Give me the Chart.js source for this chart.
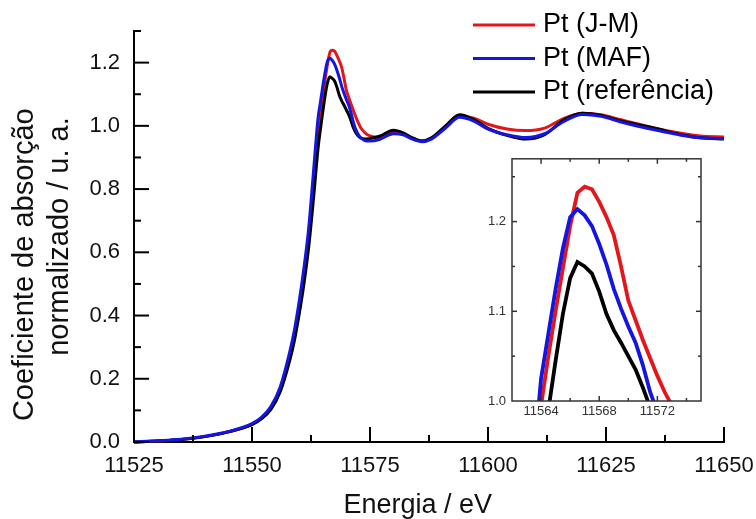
<!DOCTYPE html>
<html>
<head>
<meta charset="utf-8">
<script src="https://cdn.jsdelivr.net/npm/chart.js@4.4.0/dist/chart.umd.min.js"></script>
<style>
  body { margin: 0; background: #fff; }
  #wrap { position: relative; width: 756px; height: 519px; }
  #inset-chart { position: absolute; left: 460px; top: 145px; }
</style>
</head>
<body>
<div id="wrap">
  <canvas id="main-chart" width="756" height="519"></canvas>
  <canvas id="inset-chart" width="260" height="290"></canvas>
</div>
<script>
// energies (eV)
const energy = [
  11525, 11530, 11535, 11540, 11545, 11550, 11552, 11554, 11556, 11558,
  11559, 11560, 11561, 11562, 11563, 11564, 11564.5, 11565, 11565.5, 11566,
  11566.5, 11567, 11567.5, 11568, 11568.5, 11569, 11569.5, 11570, 11570.5, 11571,
  11571.5, 11572, 11572.5, 11573, 11574, 11575, 11577, 11580, 11582, 11584,
  11586, 11588, 11591, 11594, 11597, 11600, 11604, 11608, 11612, 11616,
  11620, 11624, 11628, 11632, 11636, 11640, 11645, 11650,
];

// Pt (J-M)
const jmValues = [
  0.0, 0.003, 0.008, 0.017, 0.032, 0.056, 0.076, 0.108, 0.168, 0.272,
  0.34, 0.43, 0.535, 0.655, 0.815, 0.995, 1.05, 1.1, 1.148, 1.195,
  1.232, 1.239, 1.236, 1.222, 1.205, 1.185, 1.15, 1.112, 1.09, 1.068,
  1.048, 1.028, 1.01, 0.995, 0.977, 0.968, 0.962, 0.978, 0.975, 0.961,
  0.952, 0.96, 0.995, 1.03, 1.024, 1.005, 0.99, 0.985, 0.993, 1.023,
  1.04, 1.035, 1.02, 1.005, 0.991, 0.979, 0.968, 0.965,
];

// Pt (MAF)
const mafValues = [
  0.0, 0.004, 0.009, 0.018, 0.033, 0.058, 0.078, 0.112, 0.175, 0.285,
  0.355, 0.445, 0.55, 0.675, 0.85, 1.025, 1.075, 1.125, 1.17, 1.205,
  1.214, 1.207, 1.195, 1.175, 1.152, 1.125, 1.103, 1.083, 1.065, 1.04,
  1.01, 0.988, 0.973, 0.963, 0.953, 0.952, 0.957, 0.975, 0.972, 0.958,
  0.95, 0.958, 0.993, 1.027, 1.015, 0.99, 0.972, 0.963, 0.975, 1.013,
  1.036, 1.03, 1.013, 0.998, 0.985, 0.973, 0.962, 0.96,
];

// Pt (referência)
const refValues = [
  0.0, 0.003, 0.008, 0.017, 0.032, 0.055, 0.073, 0.103, 0.16, 0.258,
  0.322, 0.405, 0.5, 0.615, 0.765, 0.93, 0.99, 1.045, 1.097, 1.137,
  1.155, 1.15, 1.142, 1.122, 1.097, 1.079, 1.065, 1.05, 1.035, 1.015,
  0.993, 0.978, 0.968, 0.962, 0.958, 0.96, 0.967, 0.986, 0.978, 0.962,
  0.952, 0.962, 1.0, 1.035, 1.02, 0.992, 0.97, 0.958, 0.972, 1.018,
  1.04, 1.033, 1.016, 1.003, 0.99, 0.975, 0.962, 0.958,
];

const seriesLabels = ["Pt (J-M)", "Pt (MAF)", "Pt (referência)"];
const seriesColors = ["#e3171b", "#1515e0", "#000000"];
const seriesValues = [jmValues, mafValues, refValues];
const drawOrder = [2, 0, 1];

const FONT = "'Liberation Sans', Arial, sans-serif";

function buildDatasets(width, smooth) {
  return seriesValues.map((vals, i) => ({
    label: seriesLabels[i],
    data: energy.map((e, j) => ({ x: e, y: vals[j] })),
    borderColor: seriesColors[i],
    borderWidth: width,
    pointRadius: 0,
    fill: false,
    order: drawOrder[i],
    cubicInterpolationMode: smooth ? "monotone" : "default",
    tension: 0,
    clip: smooth ? 2 : 0,
  }));
}

// ticks drawn inward from the axes, long ones where a label is shown
const inwardTicks = {
  id: "inwardTicks",
  afterDatasetsDraw(chart, args, opts) {
    const ctx = chart.ctx;
    const a = chart.chartArea;
    ctx.save();
    ctx.strokeStyle = opts.color;
    ctx.lineWidth = opts.width;
    if (opts.frame) {
      ctx.strokeRect(a.left, a.top, a.right - a.left, a.bottom - a.top);
    }
    opts.sides.forEach((side) => {
      const vertical = side === "left" || side === "right";
      const scale = vertical ? chart.scales.y : chart.scales.x;
      scale.ticks.forEach((t) => {
        if (!opts.edges && (t.value <= scale.min || t.value >= scale.max)) return;
        const len = t.label !== "" ? opts.major : opts.minor;
        const p = scale.getPixelForValue(t.value);
        ctx.beginPath();
        if (side === "left") { ctx.moveTo(a.left, p); ctx.lineTo(a.left + len, p); }
        if (side === "right") { ctx.moveTo(a.right, p); ctx.lineTo(a.right - len, p); }
        if (side === "bottom") { ctx.moveTo(p, a.bottom); ctx.lineTo(p, a.bottom - len); }
        if (side === "top") { ctx.moveTo(p, a.top); ctx.lineTo(p, a.top + len); }
        ctx.stroke();
      });
    });
    ctx.restore();
  },
};

const legendLines = {
  id: "legendLines",
  afterDraw(chart, args, opts) {
    const ctx = chart.ctx;
    ctx.save();
    ctx.font = opts.font;
    ctx.textBaseline = "middle";
    chart.data.datasets.forEach((ds, i) => {
      const y = opts.top + i * opts.rowHeight;
      ctx.strokeStyle = ds.borderColor;
      ctx.lineWidth = 3;
      ctx.beginPath();
      ctx.moveTo(opts.x, y);
      ctx.lineTo(opts.x + opts.lineLength, y);
      ctx.stroke();
      ctx.fillStyle = "#000";
      ctx.fillText(ds.label, opts.x + opts.lineLength + 8, y);
    });
    ctx.restore();
  },
};

// Main chart
new Chart(document.getElementById("main-chart"), {
  type: "line",
  data: { datasets: buildDatasets(3, true) },
  plugins: [inwardTicks, legendLines],
  options: {
    responsive: false,
    animation: false,
    layout: { padding: { top: 31, right: 32, left: 0, bottom: 0 } },
    plugins: {
      legend: { display: false },
      tooltip: { enabled: false },
      inwardTicks: { sides: ["left", "bottom"], major: 15, minor: 7, color: "#000", width: 2, edges: true, frame: false },
      legendLines: { x: 473, top: 25, rowHeight: 33.5, lineLength: 62, font: "27px " + FONT },
    },
    scales: {
      x: {
        type: "linear",
        min: 11525,
        max: 11650,
        afterFit: (s) => {
          s.height = 77;
          s.paddingLeft = 0;
          s.paddingRight = 0;
        },
        border: { display: true, color: "#000", width: 2 },
        grid: { display: false, drawTicks: false },
        ticks: {
          stepSize: 12.5,
          autoSkip: false,
          maxRotation: 0,
          padding: 11,
          color: "#111",
          font: { family: FONT, size: 22 },
          callback: (v) => ((v - 11525) % 25 === 0 ? String(v) : ""),
        },
        title: {
          display: true,
          text: "Energia / eV   ",
          color: "#111",
          font: { family: FONT, size: 27, lineHeight: 1.0 },
          padding: 0,
        },
      },
      y: {
        type: "linear",
        min: 0,
        max: 1.3,
        afterFit: (s) => { s.width = 134; },
        border: { display: true, color: "#000", width: 2 },
        grid: { display: false, drawTicks: false },
        ticks: {
          stepSize: 0.1,
          autoSkip: false,
          padding: 14,
          color: "#111",
          font: { family: FONT, size: 22 },
          callback: (v) => (Math.round(v * 10) % 2 === 0 ? v.toFixed(1) : ""),
        },
        title: {
          display: true,
          text: ["Coeficiente de absorção       ", "normalizado / u. a."],
          color: "#111",
          font: { family: FONT, size: 29, lineHeight: 1.2 },
          padding: { top: 7.5, bottom: 0 },
        },
      },
    },
  },
});

// Inset (zoom on the white line)
new Chart(document.getElementById("inset-chart"), {
  type: "line",
  data: { datasets: buildDatasets(3.8, false) },
  plugins: [inwardTicks],
  options: {
    responsive: false,
    animation: false,
    layout: { padding: { top: 10, right: 19, left: 0, bottom: 0 } },
    plugins: {
      legend: { display: false },
      tooltip: { enabled: false },
      inwardTicks: { sides: ["left", "right", "top", "bottom"], major: 5, minor: 3, color: "#333", width: 1.5, edges: false, frame: true },
    },
    scales: {
      x: {
        type: "linear",
        min: 11562,
        max: 11575,
        afterFit: (s) => {
          s.height = 34;
          s.paddingLeft = 0;
          s.paddingRight = 0;
        },
        border: { display: false },
        grid: { display: false, drawTicks: false },
        ticks: {
          stepSize: 2,
          includeBounds: false,
          autoSkip: false,
          maxRotation: 0,
          padding: 3,
          color: "#333",
          font: { family: FONT, size: 13 },
          callback: (v) => ((v - 11564) % 4 === 0 ? String(v) : ""),
        },
      },
      y: {
        type: "linear",
        min: 1.0,
        max: 1.27,
        afterFit: (s) => { s.width = 52; },
        border: { display: false },
        grid: { display: false, drawTicks: false },
        ticks: {
          stepSize: 0.05,
          includeBounds: false,
          autoSkip: false,
          padding: 6,
          color: "#333",
          font: { family: FONT, size: 13 },
          callback: (v) => (Math.round(v * 100) % 10 === 0 ? v.toFixed(1) : ""),
        },
      },
    },
  },
});
</script>
</body>
</html>
